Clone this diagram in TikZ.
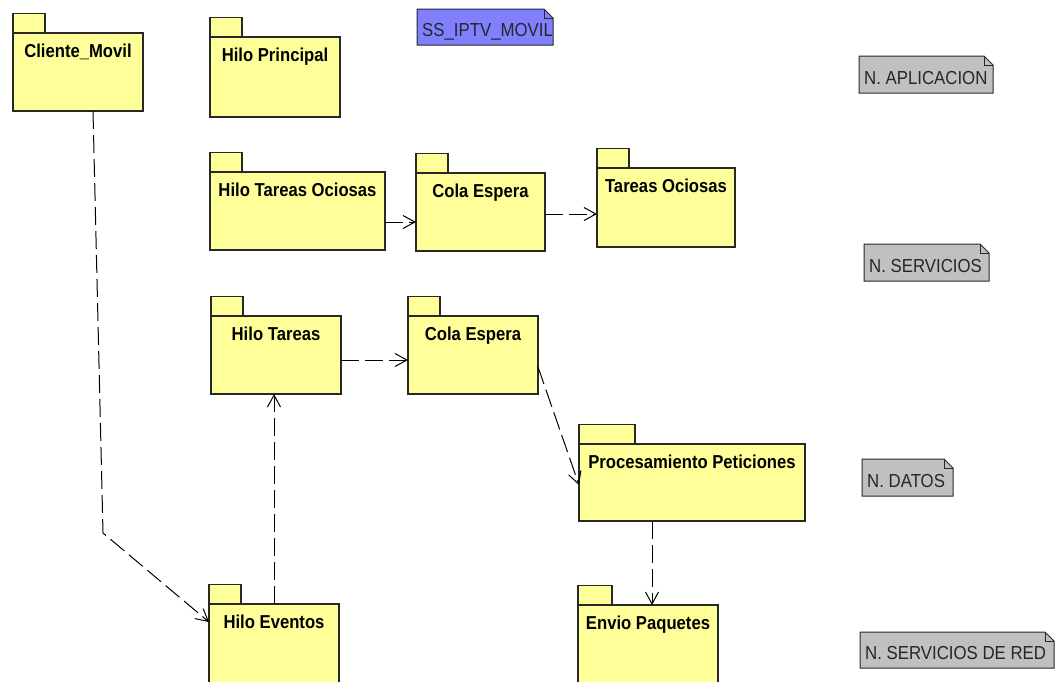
\documentclass[tikz,border=0pt]{standalone}
\usepackage{fontspec}
\setmainfont{Liberation Sans}
\usetikzlibrary{arrows.meta,calc}

\definecolor{pkgyellow}{RGB}{255,255,153}
\definecolor{noteblue}{RGB}{128,128,255}
\definecolor{notegray}{RGB}{192,192,192}
\definecolor{inkline}{RGB}{40,40,40}

\tikzset{
  pkgbody/.style={draw=inkline, fill=pkgyellow, line width=1.1pt, inner sep=0pt, outer sep=0pt},
  pkgtab/.style={draw=inkline, fill=pkgyellow, line width=1.1pt},
  pkgtitle/.style={font=\fontsize{17}{20}\selectfont\bfseries, text=black, anchor=base, inner sep=0pt},
  dep/.style={draw=black, line width=1pt, dash pattern=on 18pt off 6pt,
    -{Straight Barb[length=12pt,width=13pt,line width=1pt]}},
  notebody/.style={inner sep=0pt, outer sep=0pt},
  noteedge/.style={draw=inkline, line width=1pt},
  notetext/.style={font=\fontsize{16.8}{19}\selectfont, text=black!85, anchor=base west, inner sep=0pt},
}

% UML package: name, left, top, right, bottom, tab width, title
\newcommand\umlpackage[7]{%
  \draw[pkgtab] (#2,#3) rectangle (#2+#6,#3-19.5);
  \node[pkgbody, minimum width={(#4-#2)*1pt}, minimum height={(#5-#3)*1pt}]
    (#1) at ({(#2+#4)/2},{(#3+#5)/2}) {};
  \node[pkgtitle] (#1-title) at ({(#2+#4)/2},#3+24) {\scalebox{0.98}[1.1]{#7}};
}

% UML note with folded corner: name, left, top, right, bottom, fill, text
\newcommand\umlnote[7]{%
  \node[notebody, minimum width={(#4-#2)*1pt}, minimum height={(#5-#3)*1pt}]
    (#1) at ({(#2+#4)/2},{(#3+#5)/2}) {};
  \filldraw[noteedge, fill=#6] (#1.north west) -- ([xshift=-9pt]#1.north east)
    -- ([yshift=-9pt]#1.north east) -- (#1.south east) -- (#1.south west) -- cycle;
  \draw[inkline, line width=0.6pt] ([xshift=-9pt]#1.north east) -- ([xshift=-9pt,yshift=-9pt]#1.north east)
    -- ([yshift=-9pt]#1.north east);
  \node[notetext] (#1-text) at (#2+5,#5-9) {\scalebox{1}[1.12]{#7}};
}

\begin{document}
\begin{tikzpicture}[x=1pt, y=-1pt]
  \clip (0,0) rectangle (1056,681);
  \fill[white] (0,0) rectangle (1056,681);

  % packages
  \umlpackage{cm}{13}{33}{143}{111}{32}{Cliente\_Movil}
  \umlpackage{hp}{210}{37}{340}{117}{32}{Hilo Principal}
  \umlpackage{hto}{210}{172}{385}{250}{32}{Hilo Tareas Ociosas}
  \umlpackage{ceA}{416}{173}{545}{251}{32}{Cola Espera}
  \umlpackage{tos}{597}{168}{735}{247}{32}{Tareas Ociosas}
  \umlpackage{ht}{211}{316}{341}{394}{32}{Hilo Tareas}
  \umlpackage{ceB}{408}{316}{538}{394}{32}{Cola Espera}
  \umlpackage{pp}{579}{444}{805}{521}{56}{Procesamiento Peticiones}
  \umlpackage{he}{209}{604}{339}{692}{32}{Hilo Eventos}
  \umlpackage{ep}{578}{605}{718}{692}{34}{Envio Paquetes}

  % notes
  \umlnote{ss}{417}{9}{553}{45}{noteblue}{SS\_IPTV\_MOVIL}
  \umlnote{napp}{859}{56}{993}{93}{notegray}{N. APLICACION}
  \umlnote{nsrv}{864}{244}{989}{281}{notegray}{N. SERVICIOS}
  \umlnote{ndat}{862}{459}{953}{496}{notegray}{N. DATOS}
  \umlnote{nred}{860}{632}{1054}{668}{notegray}{N. SERVICIOS DE RED}

  % dependencies
  \coordinate (cmbend) at (103,533);
  \draw[dep] ([xshift=15pt]cm.south) -- (cmbend) -- ([yshift=26pt]he.west);
  \draw[dep] (he.north) -- (he.north |- ht.south);
  \draw[dep] ([yshift=-5pt]ht.east) -- ([yshift=-5pt]ht.east -| ceB.west);
  \draw[dep] ([yshift=-11pt]hto.east) -- ([yshift=-11pt]hto.east -| ceA.west);
  \draw[dep] ([yshift=-2pt]ceA.east) -- ([yshift=-2pt]ceA.east -| tos.west);
  \draw[dep] ([yshift=-12pt]ceB.east) -- ([yshift=-2.5pt]pp.west);
  \draw[dep] ([xshift=4pt]ep.north |- pp.south) -- ([xshift=4pt]ep.north);
\end{tikzpicture}
\end{document}
